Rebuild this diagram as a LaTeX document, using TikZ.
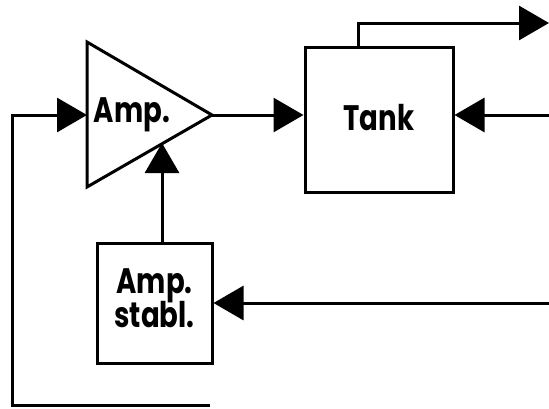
\documentclass[tikz,border=0pt]{standalone}
\usepackage{fontspec}
\setmainfont{Poppins}
\usetikzlibrary{arrows.meta}
\newcommand{\tall}[1]{\scalebox{0.92}[1.18]{#1}}
\begin{document}
\begin{tikzpicture}[x=1pt,y=-1pt,
  line width=3pt,
  conn/.style={-{Triangle[length=30pt,width=34pt]}},
  boxstyle/.style={draw,rectangle,line width=3pt,inner sep=0pt,font=\fontsize{30}{33}\selectfont\bfseries},
  lbl/.style={font=\fontsize{30}{33}\selectfont\bfseries,inner sep=0pt,align=center}]
\useasboundingbox (0,0) rectangle (549,408);
% amplifier triangle
\draw[line join=miter] (87,42) -- (212,115) -- (87,187) -- cycle;
\node[lbl] (amp) at (132,115) {\tall{Amp.}};
\coordinate (ampin) at (87,115);
\coordinate (ampout) at (212,115);
\coordinate (ampbot) at (162,143);
% tank
\node[boxstyle,minimum width=148pt,minimum height=145pt] (tank) at (379,119.5) {\raisebox{4pt}{\tall{Tank}}};
% stabiliser
\node[boxstyle,minimum width=115pt,minimum height=120pt] (stab) at (154.5,303) {\begin{tabular}{@{}c@{}}\tall{Amp.}\\[-3pt]\tall{stabl.}\end{tabular}};
% free ends
\coordinate (topout) at (549,23);
\coordinate (rin) at (549,115);
\coordinate (sin) at (549,303);
\coordinate (loopend) at (210,405);
% connectors
\draw[conn] (ampout) -- (tank.west |- ampout);
\draw[conn] (tank.north -| 358,0) |- (topout);
\draw[conn] (rin) -- (tank.east |- rin);
\draw[conn] (sin) -- (stab.east |- sin);
\draw[conn] (stab.north -| ampbot) -- (ampbot);
\draw[conn] (loopend) -| (12,115) -- (ampin);
\end{tikzpicture}
\end{document}
